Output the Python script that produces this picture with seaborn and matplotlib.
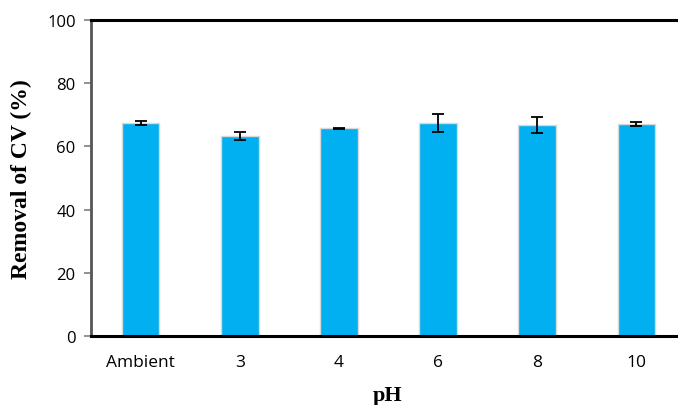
import seaborn as sns
import matplotlib.pyplot as plt
import pandas as pd

# data
ph_labels = ["Ambient", "3", "4", "6", "8", "10"]
removal = [67.4, 63.3, 65.7, 67.5, 66.8, 67.0]
err = [0.5, 1.4, 0.2, 2.8, 2.5, 0.7]

sns.set_theme(style="white", rc={"text.color": "black", "axes.labelcolor": "black",
                                 "xtick.color": "black", "ytick.color": "black"})
plt.rcParams['font.family'] = ['Open Sans', 'DejaVu Sans']

df = pd.DataFrame({"pH": ph_labels, "removal": removal})

fig = plt.figure(figsize=(6.78, 4.06), dpi=100)
# axes run off the right edge like the original
ax = fig.add_axes([91 / 678, 1 - 337 / 406, 595 / 678, 316 / 406])

sns.barplot(data=df, x="pH", y="removal", color="#00B0F0", saturation=1,
            width=0.38, edgecolor="#d9d9d9", linewidth=1.0, ax=ax)
ax.errorbar(range(len(removal)), removal, yerr=err, fmt="none",
            ecolor="black", elinewidth=1.3, capsize=4, capthick=1.3)

ax.set_xlim(-0.5, 5.5)
ax.set_ylim(0, 100)
ax.set_yticks([0, 20, 40, 60, 80, 100])
ax.tick_params(axis="y", direction="out", length=5, width=1.2, color="#7f7f7f",
               labelsize=12, pad=6, left=True)
ax.tick_params(axis="x", length=0, labelsize=12.5, pad=13)

for s in ["top", "bottom"]:
    ax.spines[s].set_color("black")
    ax.spines[s].set_linewidth(2.2)
ax.spines["left"].set_color("#555555")
ax.spines["left"].set_linewidth(2)
ax.spines["right"].set_visible(False)

ax.set_xlabel("pH", family="Liberation Serif", fontweight="bold", fontsize=16)
ax.set_ylabel("Removal of CV (%)", family="Liberation Serif", fontweight="bold",
              fontsize=17)
ax.xaxis.set_label_coords((388 - 91) / 595, -0.155)
ax.yaxis.set_label_coords(-(91 - 32) / 595, 0.5)

fig.savefig("out.png", dpi=100)
